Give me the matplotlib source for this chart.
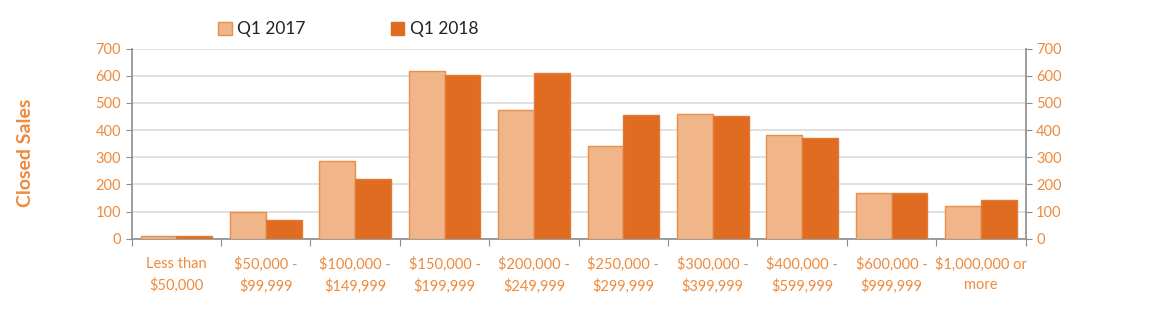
import numpy as np
import matplotlib
matplotlib.use('Agg')
import matplotlib.pyplot as plt
from matplotlib.patches import Patch

plt.rcParams['font.family'] = ['Lato', 'DejaVu Sans']

categories = ['Less than\n$50,000', '$50,000 -\n$99,999', '$100,000 -\n$149,999',
              '$150,000 -\n$199,999', '$200,000 -\n$249,999', '$250,000 -\n$299,999',
              '$300,000 -\n$399,999', '$400,000 -\n$599,999', '$600,000 -\n$999,999',
              '$1,000,000 or\nmore']
q1_2017 = [10, 98, 286, 619, 475, 343, 461, 383, 168, 122]
q1_2018 = [10, 68, 220, 603, 609, 456, 451, 370, 170, 144]

light = '#F0B589'
light_edge = '#E8904A'
dark = '#E06C22'
txt = '#EE8A3C'
axis_grey = '#8C8C8C'

fig = plt.figure(figsize=(11.6, 3.32), dpi=100)
ax = fig.add_axes([0.1135, 0.281, 0.7707, 0.5723])

x = np.arange(len(categories))
w = 0.4
ax.bar(x - w/2, q1_2017, w, color=light, edgecolor=light_edge, linewidth=1, zorder=3)
ax.bar(x + w/2, q1_2018, w, color=dark, edgecolor='#E37A36', linewidth=1, zorder=3)

ax.set_xlim(-0.5, len(categories) - 0.5)
ax.set_ylim(0, 700)
ax.set_yticks(range(0, 701, 100))
ax.grid(axis='y', color='#DCDCDC', linewidth=1.2, zorder=0)

# x ticks sit on the category boundaries, labels in the middle
ax.set_xticks(np.arange(-0.5, len(categories), 1))
ax.set_xticklabels([])
ax.set_xticks(x, minor=True)
ax.set_xticklabels(categories, minor=True, color=txt, fontsize=10.5, linespacing=1.55)
ax.tick_params(axis='x', which='minor', length=0, pad=13)
ax.tick_params(axis='x', which='major', length=5, color=axis_grey, direction='out')
ax.tick_params(axis='y', colors=txt, labelsize=10.5, length=4, left=True, right=True,
               labelleft=True, labelright=True)
ax.tick_params(axis='y', color=axis_grey)

for s in ['left', 'right', 'bottom']:
    ax.spines[s].set_color(axis_grey)
    ax.spines[s].set_linewidth(1.2)
ax.spines['top'].set_visible(False)

fig.text(0.022, 0.54, 'Closed Sales', rotation=90, color=txt, fontsize=14,
         fontweight='bold', ha='center', va='center')

handles = [Patch(facecolor=light, edgecolor=light_edge, label='Q1 2017'),
           Patch(facecolor=dark, edgecolor=dark, label='Q1 2018')]
fig.legend(handles=handles, loc='center', bbox_to_anchor=(0.3, 0.912), ncol=2,
           frameon=False, fontsize=12.5, handlelength=0.8, handleheight=0.8,
           handletextpad=0.3, columnspacing=4.9, labelcolor='#222222')

fig.savefig('out.png', dpi=100)
